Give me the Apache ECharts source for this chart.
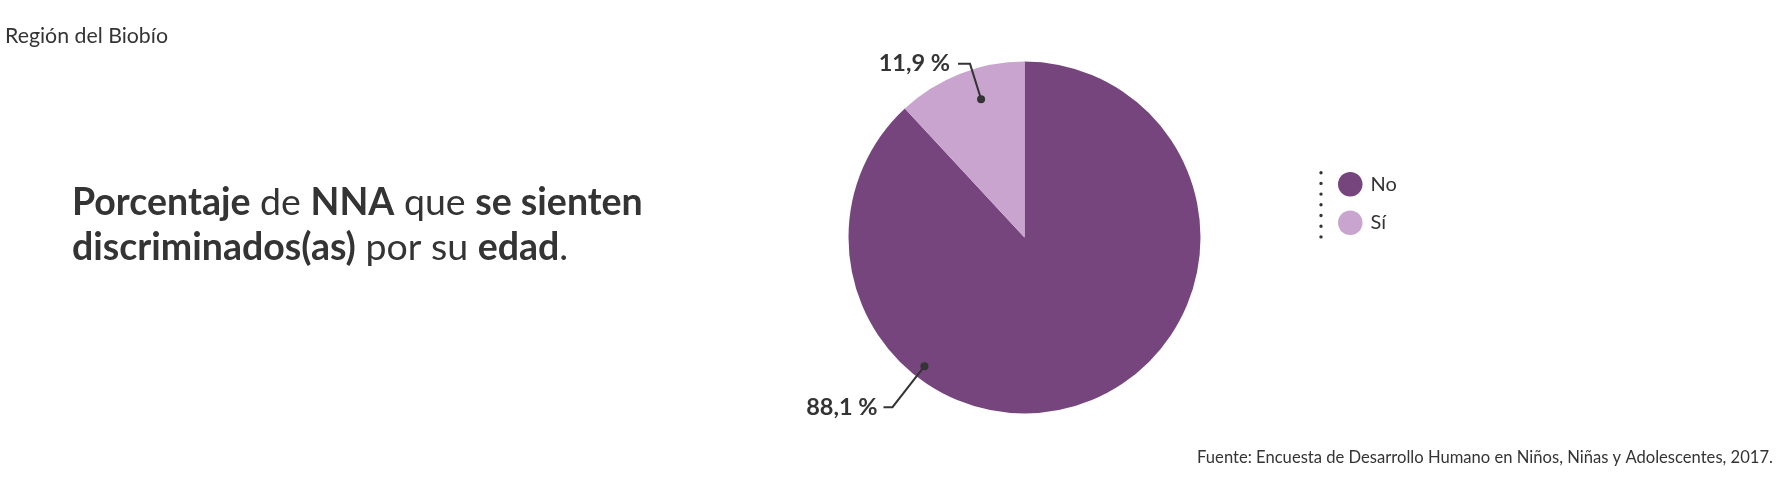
<!DOCTYPE html>
<html>
<head>
<meta charset="utf-8">
<script src="https://cdn.jsdelivr.net/npm/echarts@6/dist/echarts.min.js"></script>
<style>
html,body{margin:0;padding:0;background:#fff;}
#chart{width:1791px;height:477px;}
</style>
</head>
<body>
<div id="chart"></div>
<script>
// ---- data ----
const categories = ['No', 'Sí'];
const values = [88.1, 11.9];
const colors = ['#77457E', '#C9A4CE'];
const regionText = 'Región del Biobío';
const sourceText = 'Fuente: Encuesta de Desarrollo Humano en Niños, Niñas y Adolescentes, 2017.';

const FONT = 'Lato, "Noto Sans", sans-serif';
const TEXT = '#343434';
const CENTER = [1024.5, 237.5];

const fmt = v => v.toFixed(1).replace('.', ',') + ' %';

function pieData(showIdx, withLine) {
  return categories.map((c, i) => ({
    name: c,
    value: values[i],
    label: { show: i === showIdx },
    labelLine: { show: withLine && i === showIdx }
  }));
}

// label series (text + leader) and dot series for one category
function labelSeries(idx, startAngle, r, len1, len2, dist) {
  return [
    {
      type: 'pie', silent: true, center: CENTER, radius: [0, r], startAngle: startAngle,
      avoidLabelOverlap: false, itemStyle: { color: 'rgba(0,0,0,0)' },
      emphasis: { disabled: true },
      label: {
        position: 'outside', formatter: p => fmt(p.value),
        fontFamily: FONT, fontWeight: 'bold', fontSize: 23.5, color: TEXT,
        distanceToLabelLine: dist
      },
      labelLine: { length: len1, length2: len2, smooth: false, lineStyle: { color: TEXT, width: 2 } },
      data: pieData(idx, true), z: 5
    },
    {
      type: 'pie', silent: true, center: CENTER, radius: [r - 1, r + 1], startAngle: startAngle,
      avoidLabelOverlap: false, itemStyle: { color: 'rgba(0,0,0,0)' },
      emphasis: { disabled: true },
      label: {
        position: 'inside', formatter: '{d|}',
        rich: { d: { width: 8, height: 8, borderRadius: 4, backgroundColor: TEXT } }
      },
      labelLine: { show: false },
      data: pieData(idx, false), z: 6
    }
  ];
}

const chart = echarts.init(document.getElementById('chart'), null, { renderer: 'canvas' });
chart.setOption({
  backgroundColor: '#fff',
  animation: false,
  title: [
    {
      text: '{b|Porcentaje}{r| de }{b|NNA}{r| que }{b|se sienten}\n{b|discriminados(as)}{r| por su }{b|edad}{r|.}',
      left: 72, top: 180, padding: 0,
      textStyle: {
        fontFamily: FONT, fontSize: 37.5, lineHeight: 45, color: TEXT,
        rich: {
          b: { fontFamily: FONT, fontSize: 37.5, lineHeight: 45, fontWeight: 'bold', color: TEXT },
          r: { fontFamily: FONT, fontSize: 37.5, lineHeight: 45, fontWeight: 'normal', color: TEXT }
        }
      }
    },
    {
      text: regionText, left: 5, top: 24, padding: 0,
      textStyle: { fontFamily: FONT, fontSize: 21.3, lineHeight: 24, fontWeight: 'normal', color: TEXT }
    },
    {
      text: sourceText, right: 18, top: 446, padding: 0,
      textStyle: { fontFamily: FONT, fontSize: 16.6, lineHeight: 24, fontWeight: 'normal', color: TEXT }
    }
  ],
  legend: {
    data: categories, orient: 'vertical', left: 1338, top: 172, padding: 0,
    icon: 'circle', itemWidth: 24.5, itemHeight: 24.5, itemGap: 14,
    selectedMode: false,
    textStyle: { fontFamily: FONT, fontSize: 20, color: TEXT, padding: [0, 0, 0, 3] }
  },
  graphic: [{
    type: 'line', silent: true,
    shape: { x1: 1321, y1: 172.7, x2: 1321, y2: 238 },
    style: { stroke: TEXT, lineWidth: 3.4, lineDash: [0, 10.7], lineCap: 'round' }
  }],
  series: [
    {
      type: 'pie', name: 'main', center: CENTER, radius: [0, 176], startAngle: 90,
      silent: true, label: { show: false }, labelLine: { show: false },
      emphasis: { disabled: true },
      data: categories.map((c, i) => ({ name: c, value: values[i], itemStyle: { color: colors[i] } }))
    },
    ...labelSeries(1, 86, 142, 40, 12, 8),
    ...labelSeries(0, 30.7, 160, 55, 9, 6)
  ]
});
</script>
</body>
</html>
